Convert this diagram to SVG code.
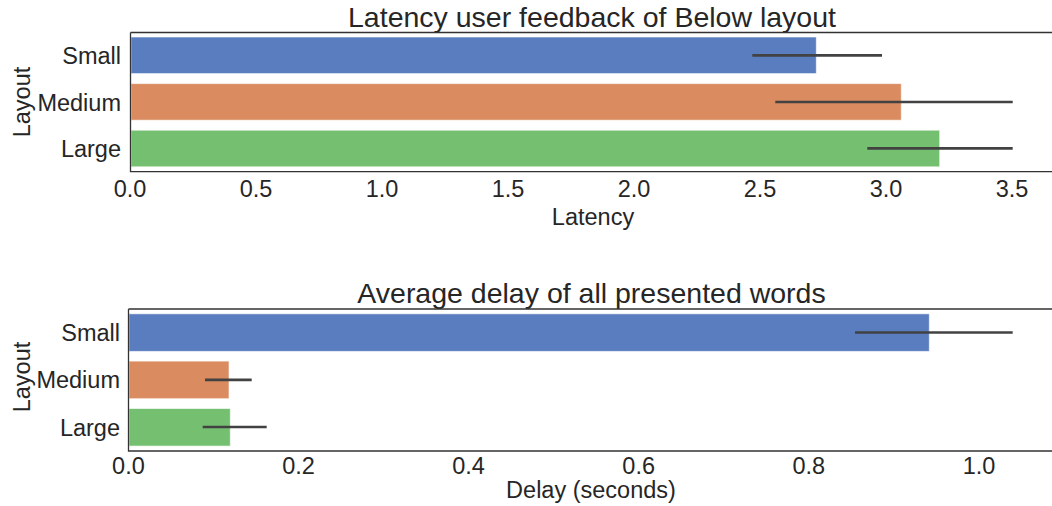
<svg xmlns="http://www.w3.org/2000/svg" width="1052" height="506" viewBox="0 0 1052 506">
<style>
text{font-family:"Liberation Sans",Arial,sans-serif;fill:#262626}
.tick{font-size:23.5px;text-anchor:middle}
.cat{font-size:23.5px;text-anchor:end}
.lab{font-size:23.5px;text-anchor:middle}
.title{font-size:28.5px;text-anchor:middle}
.spine{stroke:#333;stroke-width:1.3;fill:none}
.bar{stroke:#ffffff;stroke-opacity:0.6;stroke-width:1}
.blue{fill:#597dbf}.orange{fill:#da8b5f}.green{fill:#75bf71}
.err{stroke:#424242;stroke-width:2.7;stroke-linecap:butt}
</style>
<rect width="1052" height="506" fill="#ffffff"/>

<g id="top-plot">
  <text class="title" x="592" y="27">Latency user feedback of Below layout</text>
  <g id="top-bars">
    <rect class="bar blue" x="131" y="37" width="685.3" height="36.6"/>
    <rect class="bar orange" x="131" y="83.6" width="770.3" height="36.6"/>
    <rect class="bar green" x="131" y="130.2" width="808.7" height="36.6"/>
  </g>
  <g id="top-errorbars">
    <line class="err" x1="752.3" y1="55.3" x2="882" y2="55.3"/>
    <line class="err" x1="775.3" y1="102" x2="1012.7" y2="102"/>
    <line class="err" x1="867.3" y1="148.4" x2="1012.7" y2="148.4"/>
  </g>
  <g id="top-axes">
    <path class="spine" d="M130.5 32.5 H1052 M130.5 32.5 V171.7 H1052"/>
  </g>
  <g id="top-yticks">
    <text class="cat" x="121" y="64">Small</text>
    <text class="cat" x="121" y="110.5">Medium</text>
    <text class="cat" x="121" y="157">Large</text>
  </g>
  <g id="top-xticks">
    <text class="tick" x="130" y="197">0.0</text>
    <text class="tick" x="256" y="197">0.5</text>
    <text class="tick" x="382" y="197">1.0</text>
    <text class="tick" x="508" y="197">1.5</text>
    <text class="tick" x="634" y="197">2.0</text>
    <text class="tick" x="760" y="197">2.5</text>
    <text class="tick" x="886" y="197">3.0</text>
    <text class="tick" x="1012" y="197">3.5</text>
  </g>
  <text class="lab" x="593" y="225">Latency</text>
  <text class="lab" transform="translate(30,102) rotate(-90)">Layout</text>
</g>

<g id="bottom-plot">
  <text class="title" x="591.5" y="303">Average delay of all presented words</text>
  <g id="bottom-bars">
    <rect class="bar blue" x="129" y="313.8" width="800.3" height="37.6"/>
    <rect class="bar orange" x="129" y="361.1" width="100" height="37.6"/>
    <rect class="bar green" x="129" y="408.5" width="101.3" height="37.6"/>
  </g>
  <g id="bottom-errorbars">
    <line class="err" x1="855" y1="332.5" x2="1012.7" y2="332.5"/>
    <line class="err" x1="205" y1="379.8" x2="251.7" y2="379.8"/>
    <line class="err" x1="202.7" y1="427" x2="266.7" y2="427"/>
  </g>
  <g id="bottom-axes">
    <path class="spine" d="M128.5 309 H1052 M128.5 309 V451 H1052"/>
  </g>
  <g id="bottom-yticks">
    <text class="cat" x="120" y="341">Small</text>
    <text class="cat" x="120" y="388.3">Medium</text>
    <text class="cat" x="120" y="435.6">Large</text>
  </g>
  <g id="bottom-xticks">
    <text class="tick" x="128.4" y="474">0.0</text>
    <text class="tick" x="298.5" y="474">0.2</text>
    <text class="tick" x="468.6" y="474">0.4</text>
    <text class="tick" x="638.7" y="474">0.6</text>
    <text class="tick" x="808.8" y="474">0.8</text>
    <text class="tick" x="979" y="474">1.0</text>
  </g>
  <text class="lab" x="591" y="498">Delay (seconds)</text>
  <text class="lab" transform="translate(30,377) rotate(-90)">Layout</text>
</g>
</svg>
